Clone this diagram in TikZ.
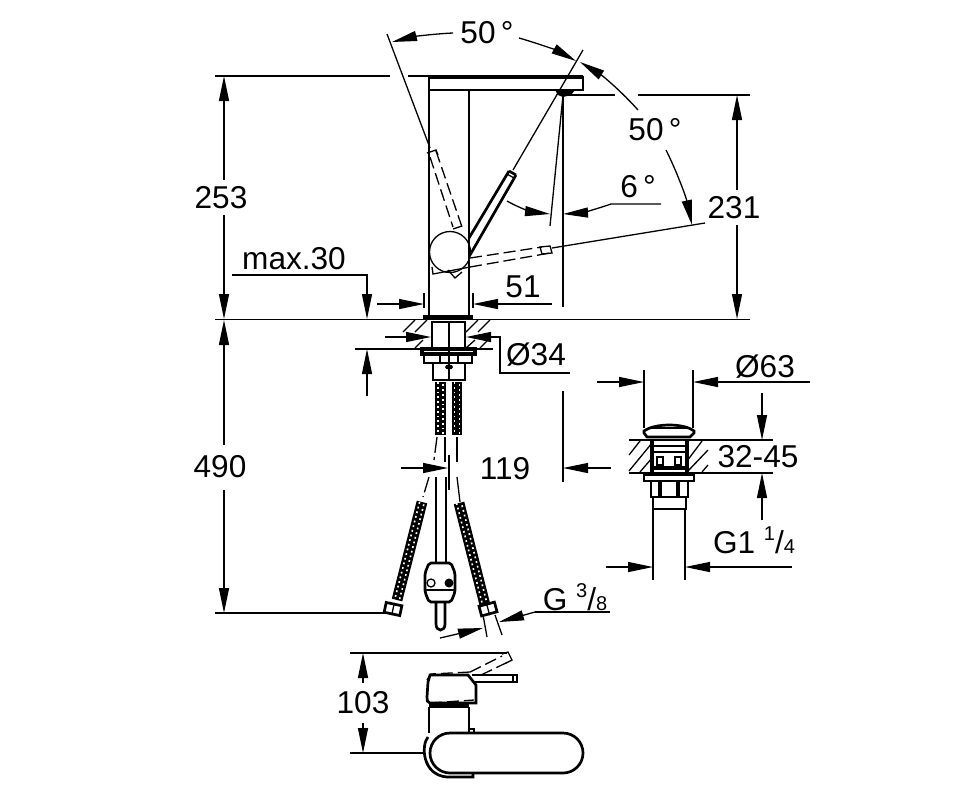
\documentclass[tikz,border=0pt]{standalone}
\usepackage{fontspec}
\setmainfont{Liberation Sans}
\usetikzlibrary{arrows.meta}
\newcommand{\frc}[2]{\raisebox{6.5pt}{\fontsize{10}{12}\selectfont #1}/\fontsize{10}{12}\selectfont #2}
\newcommand{\braid}[2]{%
  \draw[line width=5.4pt] (#1) -- (#2);
  \draw[white, line width=0.8pt, dash pattern=on 0.9pt off 1.5pt, xshift=-1.2pt] (#1) -- (#2);
  \draw[white, line width=0.8pt, dash pattern=on 0.9pt off 1.5pt, dash phase=1.2pt, xshift=1.2pt] (#1) -- (#2);
}
\tikzset{
  thinl/.style={line width=0.65pt},
  thickl/.style={line width=1.35pt},
  dashl/.style={line width=0.65pt, dash pattern=on 6pt off 2.5pt},
  dim/.style={line width=0.65pt, -{Triangle[length=12.5pt,width=5pt]}},
  lbl/.style={font=\fontsize{15.8}{18}\selectfont, inner sep=0pt},
}
\begin{document}
\begin{tikzpicture}[x=0.5pt, y=-0.5pt]
  \useasboundingbox[fill=white] (0,0) rectangle (978,800);

  % faucet side view
  \draw[line width=1.8pt] (429,77) -- (583,77);
  \draw[thickl] (429,77) rectangle (583,90);
  \draw[thickl] (429,77) -- (429,316) (469,90) -- (469,316);
  \draw[thinl] (450,252) circle (20.5);
  \fill (555,90) -- (575,90) -- (571,95) -- (563,97) -- (558,95) -- cycle;
  \draw[thickl] (509,171) -- (469,238) (516,175) -- (470,255) (509,171) -- (516,175);
  \draw[thinl] (507,174) -- (514,178);
  \draw[thinl] (513,170) -- (583,50) (563,95) -- (550,226);
  \draw[thinl] (387,34) -- (430,148);
  \draw[thinl] (552,248) -- (705,223);
  % dashed lever positions
  \draw[dashl] (430,157) -- (453,227) (436,151) -- (462,227);
  \draw[thinl] (427,153) -- (436,150) -- (438,155) (453,229) -- (462,226);
  \draw[dashl] (470,258) -- (542,247) (470,267) -- (550,253);
  \draw[thinl] (540,247) -- (550,246) -- (552,253) -- (542,254) -- cycle;
  \draw[thinl] (432,267) -- (433,274) -- (470,267) (448,270) -- (455,278) -- (462,272);

  % levels
  \draw[thinl] (215,76) -- (390,76) (408,76) -- (429,76);
  \draw[thinl] (562,95) -- (615,95) (638,95) -- (750,95);
  \draw[thinl] (563,95) -- (563,307);
  \draw[thinl] (215,319.5) -- (750,319.5);
  \draw[thinl] (215,613) -- (386,613);

  % under counter
  \draw[line width=1.8pt] (423,317) -- (473,317);
  \draw[thickl] (432,322) rectangle (465,348);
  \draw[thinl] (449,322) -- (449,380);
  \draw[thinl] (403,332) -- (415,320) (415,332) -- (427,320) (466,332) -- (478,320) (478,332) -- (490,320);
  \draw[thinl] (415,348) -- (423,340) (466,348) -- (475,340) (480,348) -- (490,338);
  \draw[thinl] (355,349) -- (493,349);
  \draw[line width=1.6pt] (422,349) rectangle (475,354);
  \draw[thickl] (424,354) rectangle (472,363);
  \draw[thinl] (440,354) -- (440,363) (458,354) -- (458,363);
  \draw[thickl] (433,363) -- (433,380) -- (465,380) -- (465,363);
  \fill (449,367) ellipse (4 and 2.5);

  % hoses
  \braid{440.5,382}{440.5,435}
  \braid{457,382}{457,435}
  \braid{422,502}{397,600}
  \braid{459,503}{485,605}
  \draw[thinl, dash pattern=on 8pt off 2pt] (437,437) -- (434,460) (429,477) -- (423,497);
  \draw[thinl] (445,437) -- (445,462) (457,437) -- (457,462) (449,455) -- (449,490);
  \draw[thickl] (436,477) -- (436,563) (446,477) -- (446,563);
  \draw[thinl] (457,477) -- (460,502);
  \node[draw, thickl, fill=white, rotate=-12, minimum width=8pt, minimum height=5pt, inner sep=0pt] (nutL) at (393,609) {};
  \node[draw, thickl, fill=white, rotate=15, minimum width=8pt, minimum height=5pt, inner sep=0pt] (nutR) at (488,609) {};
  \draw[thinl] (nutL.north) -- (nutL.south) (nutR.north) -- (nutR.south);
  \draw[thinl] (483,615) -- (487,637) (495,615) -- (502,635);
  % mixing block
  \draw[thickl, rounded corners=1pt] (429,563) -- (451,563) -- (455,573) -- (455,592) -- (451,602) -- (429,602) -- (425,592) -- (425,573) -- cycle;
  \draw[line width=1pt] (425,590) -- (455,590);
  \draw[thinl] (431,583) circle (4);
  \fill (449,583) circle (4.5);
  \draw[thickl] (436,602) -- (436,624) .. controls (436,632) and (445,632) .. (445,624) -- (445,602);

  % pop-up waste
  \draw[thinl] (644,370) -- (644,428) (693,370) -- (693,428);
  \draw[thickl] (644,431) .. controls (655,423) and (684,423) .. (694,431) -- (694,433) -- (690,437) -- (647,437) -- (644,433) -- cycle;
  \draw[thinl] (650,428) -- (688,428);
  \draw[thickl] (629,440) -- (773,440) (629,473) -- (773,473);
  \draw[line width=1.8pt] (652,440) -- (652,473) (687,440) -- (687,473);
  \draw[thinl] (654,446) -- (685,446) (654,452) -- (685,452);
  \draw[thickl] (657,457) rectangle (663,465) (675,457) rectangle (681,465);
  \draw[line width=1.6pt] (654,468) -- (685,468);
  \draw[thinl] (629,455) -- (640,441) (629,471) -- (652,443) (640,472) -- (652,458);
  \draw[thinl] (687,461) -- (702,441) (687,472) -- (708,450) (702,472) -- (708,465);
  \draw[thickl] (644,475) rectangle (694,481);
  \draw[thickl] (651,481) rectangle (688,497);
  \draw[line width=1.8pt] (660,481) -- (660,497) (678,481) -- (678,497);
  \draw[thickl] (653,497) rectangle (686,509);
  \draw[thinl] (653,509) -- (653,580) (685,509) -- (685,580);

  % top view
  \draw[thickl, rounded corners=10pt] (430,733) rectangle (583,773);
  \draw[thickl] (428,737) .. controls (421,745) and (422,775) .. (447,777) -- (473,777) -- (473,773);
  \draw[thickl] (429,707) -- (429,733) (469,707) -- (469,733);
  \draw[line width=2pt] (429,706) -- (469,706);
  \draw[thinl] (469,729) rectangle (474,733);
  \draw[thickl] (476,703) -- (430,703) .. controls (427,703) and (427,700) .. (427,697) -- (428,682) -- (430,675) -- (468,675) -- (476,685) -- cycle;
  \draw[thickl] (472,675) -- (517,675) -- (517,682) -- (474,682);
  \draw[thinl] (513,675) -- (513,682);
  \draw[dashl] (427,680) -- (431,674) -- (470,672) (470,672) -- (502,656) (481,675) -- (510,661) (430,703) -- (474,700);
  \draw[thinl] (502,654) -- (508,652) -- (512,660) -- (506,663);

  % dimensions
  \draw[dim] (224,180) -- (224,76);
  \draw[dim] (224,215) -- (224,319);
  \draw[dim] (224,445) -- (224,320);
  \draw[dim] (224,490) -- (224,613);
  \draw[dim] (737,190) -- (737,95);
  \draw[dim] (737,225) -- (737,319);
  \draw[dim] (232,275) -- (367,275) -- (367,319);
  \draw[dim] (367,396) -- (367,349);
  \draw[dim] (377,304) -- (424,304);
  \draw[dim] (552,304) -- (473,304);
  \draw[thinl] (424,293) -- (424,308) (473,293) -- (473,308);
  \draw[dim] (385,337) -- (431,337);
  \draw[dim] (570,373) -- (500,373) -- (500,337) -- (466,337);
  \draw[dim] (401,468) -- (448,468);
  \draw[thinl] (563,391) -- (563,482);
  \draw[dim] (611,468) -- (563,468);
  \draw[dim] (440,638) -- (483,628);
  \draw[thinl] (610,612) -- (535,612);
  \draw[dim] (535,612) -- (499,622);
  \draw[dim] (597,382) -- (644,382);
  \draw[dim] (810,382) -- (693,382);
  \draw[dim] (762,393) -- (762,440);
  \draw[dim] (762,520) -- (762,473);
  \draw[dim] (606,567) -- (653,567);
  \draw[dim] (792,567) -- (685,567);
  \draw[thinl] (350,653) -- (507,653) (350,753) -- (424,753);
  \draw[dim] (363,683) -- (363,653);
  \draw[dim] (363,723) -- (363,753);
  % angles
  \draw[dim] (453,33) .. controls (431,34) and (412,37) .. (392,42);
  \draw[dim] (519,38) .. controls (540,44) and (558,51) .. (576,61);
  \draw[dim] (638,110) .. controls (622,92) and (603,76) .. (580,62);
  \draw[dim] (666,150) .. controls (677,172) and (686,197) .. (692,225);
  \draw[dim] (507,201) .. controls (519,208) and (533,212) .. (550,214);
  \draw[dim] (661,204) -- (611,204) .. controls (597,209) and (580,213) .. (563,214);

  % labels
  \node[lbl] (angTop) at (487,33) {50\,°};
  \node[lbl] (angRight) at (655,130) {50\,°};
  \node[lbl] (angSix) at (638,187) {6\,°};
  \node[lbl] (dimSpout) at (734,208) {231};
  \node[lbl] (dimHeight) at (221,198) {253};
  \node[lbl] (dimMax) at (294,259) {max.30};
  \node[lbl] (dimSpan) at (523,287) {51};
  \node[lbl] (dimHole) at (536,355) {Ø34};
  \node[lbl] (dimHose) at (220,467) {490};
  \node[lbl] (dimOffset) at (505,469) {119};
  \node[lbl, anchor=base] (dimThread) at (575,610) {G \frc{3}{8}};
  \node[lbl] (dimCap) at (765,367) {Ø63};
  \node[lbl] (dimDeck) at (758,457) {32-45};
  \node[lbl, anchor=base] (dimWaste) at (754,553) {G1 \frc{1}{4}};
  \node[lbl] (dimLever) at (363,703) {103};
\end{tikzpicture}
\end{document}
